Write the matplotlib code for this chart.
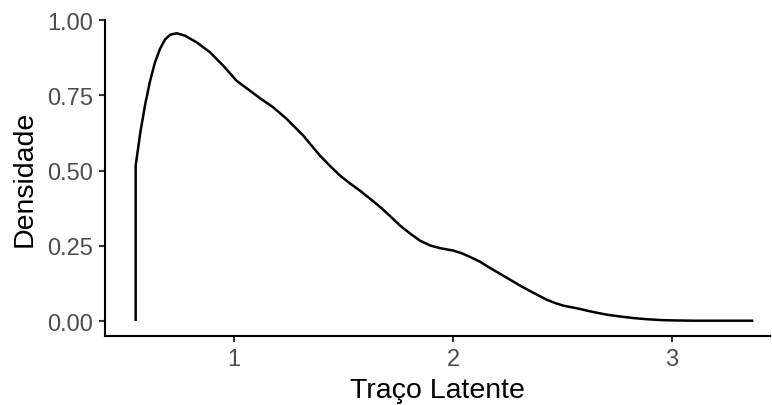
import matplotlib
matplotlib.use("Agg")
import matplotlib.pyplot as plt

# density curve
x_vals = [0.551, 0.551, 0.572, 0.594, 0.616, 0.639, 0.662, 0.685, 0.708, 0.738,
          0.776, 0.829, 0.890, 0.951, 1.012, 1.073, 1.119, 1.179, 1.241, 1.316,
          1.393, 1.440, 1.484, 1.530, 1.575, 1.620, 1.667, 1.712, 1.758, 1.805,
          1.849, 1.895, 1.941, 2.001, 2.040, 2.080, 2.123, 2.160, 2.200, 2.240,
          2.275, 2.310, 2.350, 2.390, 2.427, 2.465, 2.504, 2.545, 2.580, 2.620,
          2.660, 2.710, 2.763, 2.820, 2.884, 2.950, 3.006, 3.100, 3.200, 3.371]
y_vals = [0.000, 0.516, 0.625, 0.718, 0.795, 0.859, 0.904, 0.935, 0.951, 0.956,
          0.948, 0.926, 0.893, 0.848, 0.798, 0.765, 0.740, 0.710, 0.671, 0.616,
          0.549, 0.514, 0.483, 0.457, 0.433, 0.407, 0.379, 0.349, 0.317, 0.290,
          0.267, 0.251, 0.242, 0.234, 0.225, 0.212, 0.197, 0.180, 0.163, 0.146,
          0.131, 0.116, 0.100, 0.085, 0.071, 0.060, 0.051, 0.045, 0.040, 0.033,
          0.027, 0.020, 0.015, 0.010, 0.006, 0.003, 0.002, 0.001, 0.001, 0.001]

x_ticks = [1, 2, 3]
x_ticklabels = ["1", "2", "3"]
y_ticks = [0.00, 0.25, 0.50, 0.75, 1.00]
y_ticklabels = ["0.00", "0.25", "0.50", "0.75", "1.00"]

plt.rcParams["font.family"] = ["Liberation Sans", "DejaVu Sans"]

W, H = 772, 406
fig = plt.figure(figsize=(W / 100, H / 100), dpi=100)
ax = fig.add_axes([105 / W, (H - 337) / H, (770 - 105) / W, (337 - 21) / H])

ax.plot(x_vals, y_vals, color="black", linewidth=1.8,
        solid_capstyle="butt", solid_joinstyle="round")

ax.set_xlim(0.411, 3.447)
ax.set_ylim(-0.0498, 1.0)
ax.set_xticks(x_ticks)
ax.set_xticklabels(x_ticklabels)
ax.set_yticks(y_ticks)
ax.set_yticklabels(y_ticklabels)

for s in ["top", "right"]:
    ax.spines[s].set_visible(False)
for s in ["left", "bottom"]:
    ax.spines[s].set_linewidth(1.5)
    ax.spines[s].set_color("black")

ax.tick_params(axis="both", length=4.5, width=1.5, color="#333333",
               labelsize=17, labelcolor="#4D4D4D", pad=4)

ax.set_xlabel("Traço Latente", fontsize=20.5, color="black", labelpad=5)
ax.set_ylabel("Densidade", fontsize=20.5, color="black", labelpad=7)

fig.savefig("out.png", dpi=100)
plt.close()
